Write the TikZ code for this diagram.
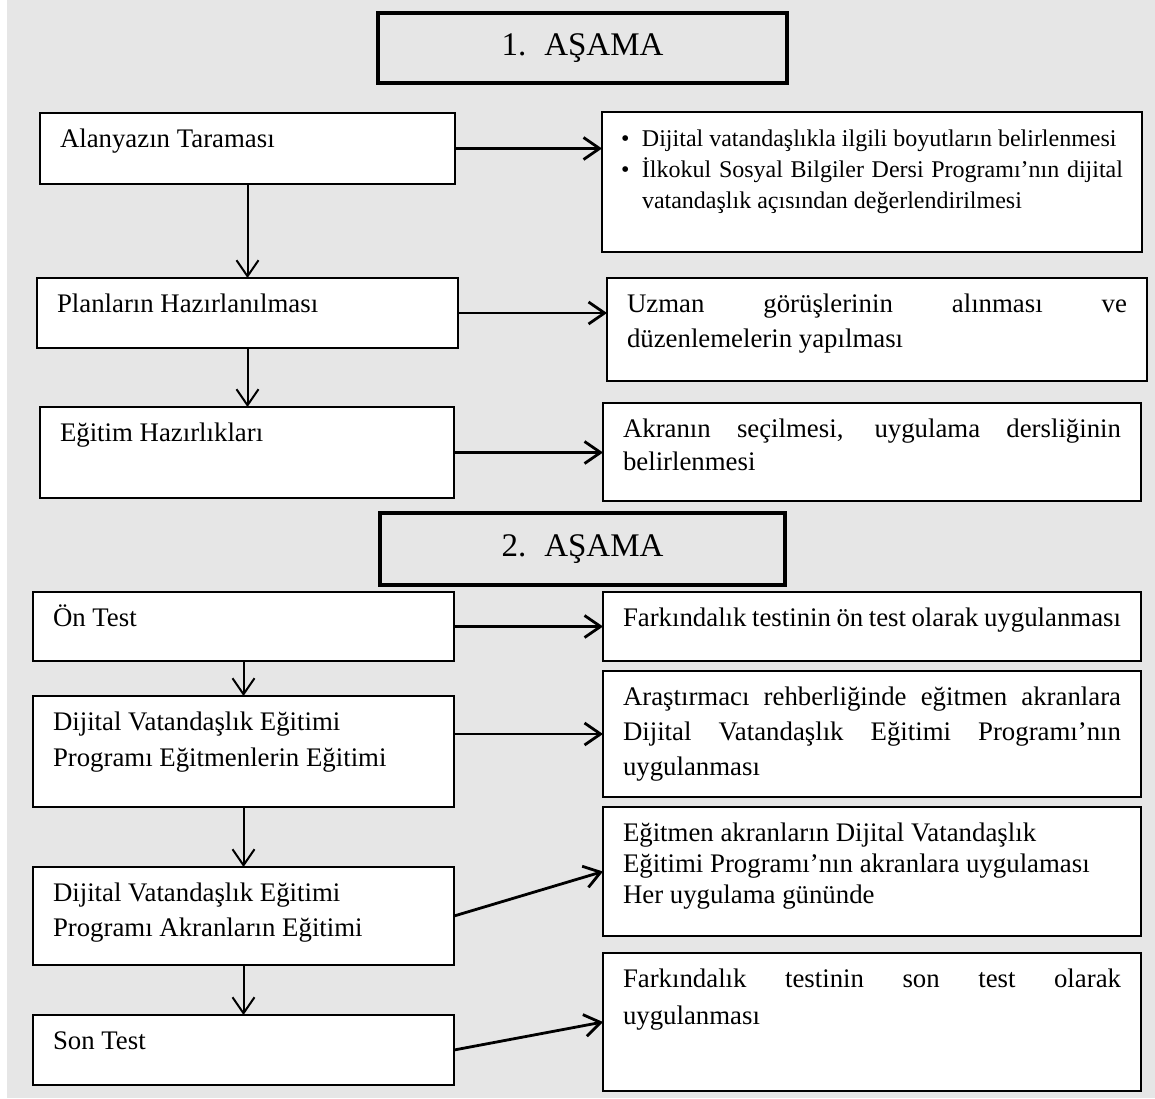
\documentclass[tikz,border=0pt]{standalone}
\usepackage{fontspec}
\setmainfont{Liberation Serif}
\usetikzlibrary{arrows.meta}

\definecolor{pagegray}{HTML}{E6E6E6}

\newcommand{\boxtext}[4]{\parbox[t][#1][t]{#2}{\hyphenpenalty=10000\exhyphenpenalty=10000\fontsize{13.4pt}{#3}\selectfont\rule{0pt}{17pt}#4}}

\tikzset{
  stagebox/.style={draw, line width=2.2pt, anchor=north west, outer sep=0, inner sep=0, minimum height=35pt, font=\fontsize{16.5pt}{20pt}\selectfont},
  flowbox/.style={draw, line width=0.8pt, fill=white, anchor=north west, outer sep=0, inner ysep=0pt, inner xsep=10pt},
  sidearrow/.style={line width=1.4pt, -{Straight Barb[length=8pt, width=11pt]}},
  downarrow/.style={line width=1pt, -{Straight Barb[length=8pt, width=11pt]}}
}

\begin{document}
\begin{tikzpicture}[x=0.5pt, y=-0.5pt]
        \useasboundingbox (0,0) rectangle (1155,1098);
        \fill[white] (0,0) rectangle (1155,1098);
        \fill[pagegray] (7,0) rectangle (1155,1098);

        \draw (378,13) node[stagebox, minimum width=204.5pt] (stage-1) {1.\hspace{9pt}AŞAMA};

        \draw (40,113) node[flowbox] (lit-rev) {\boxtext{35.5pt}{187.5pt}{17.5pt}{Alanyazın Taraması}};

        \draw (37,278) node[flowbox] (plan-prep) {\boxtext{35pt}{190.5pt}{17.5pt}{Planların Hazırlanılması}};

        \draw (40,407) node[flowbox] (edu-prep) {\boxtext{45.5pt}{187pt}{17.5pt}{Eğitim Hazırlıkları}};

        \draw (602,112) node[flowbox, inner xsep=9.5pt] (lit-out) {\boxtext{70pt}{251pt}{15.5pt}{\fontsize{12pt}{15.5pt}\selectfont\hangindent=10.5pt\hangafter=1\makebox[10.5pt][l]{\textbullet}Dijital vatandaşlıkla ilgili boyutların belirlenmesi\par\hangindent=10.5pt\hangafter=1\makebox[10.5pt][l]{\textbullet}İlkokul Sosyal Bilgiler Dersi Programı’nın dijital\linebreak vatandaşlık açısından değerlendirilmesi}};

        \draw (607,278) node[flowbox] (plan-out) {\boxtext{51.5pt}{250pt}{17.5pt}{Uzman görüşlerinin alınması ve\linebreak düzenlemelerin yapılması}};

        \draw (603,403) node[flowbox] (edu-out) {\boxtext{49pt}{249pt}{16.5pt}{Akranın seçilmesi, uygulama dersliğinin\linebreak belirlenmesi}};

        \draw (380,513) node[stagebox, minimum width=202.5pt, minimum height=36pt] (stage-2) {2.\hspace{9pt}AŞAMA};

        \draw (33,592) node[flowbox] (pre-test) {\boxtext{34.5pt}{190.5pt}{17.5pt}{Ön Test}};

        \draw (33,696) node[flowbox] (trainer-edu) {\boxtext{55.5pt}{190.5pt}{18pt}{Dijital Vatandaşlık Eğitimi\\Programı Eğitmenlerin Eğitimi}};

        \draw (33,867) node[flowbox] (peer-edu) {\boxtext{49pt}{190.5pt}{17.5pt}{Dijital Vatandaşlık Eğitimi\\Programı Akranların Eğitimi}};

        \draw (33,1015) node[flowbox] (post-test) {\boxtext{35pt}{190.5pt}{17.5pt}{Son Test}};

        \draw (603,592) node[flowbox] (pre-out) {\boxtext{34.5pt}{249pt}{17.5pt}{Farkındalık testinin ön test olarak uygulanması}};

        \draw (603,671) node[flowbox] (trainer-out) {\boxtext{63pt}{249pt}{17.5pt}{Araştırmacı rehberliğinde eğitmen akranlara\linebreak Dijital Vatandaşlık Eğitimi Programı’nın\linebreak uygulanması}};

        \draw (603,807) node[flowbox] (peer-out) {\boxtext{64.5pt}{249pt}{15.5pt}{Eğitmen akranların Dijital Vatandaşlık\\Eğitimi Programı’nın akranlara uygulaması\\Her uygulama gününde}};

        \draw (603,953) node[flowbox] (post-out) {\boxtext{69pt}{249pt}{18.5pt}{Farkındalık testinin son test olarak\linebreak uygulanması}};

        \draw[downarrow] (lit-rev.south) -- (lit-rev.south |- plan-prep.north);
        \draw[downarrow] (plan-prep.south) -- (plan-prep.south |- edu-prep.north);
        \draw[downarrow] (pre-test.south) -- (trainer-edu.north);
        \draw[downarrow] (trainer-edu.south) -- (peer-edu.north);
        \draw[downarrow] (peer-edu.south) -- (post-test.north);

        \draw[sidearrow] (lit-rev.east) -- (lit-rev.east -| lit-out.west);
        \draw[sidearrow] (plan-prep.east) -- (plan-prep.east -| plan-out.west);
        \draw[sidearrow] (edu-prep.east) -- (edu-prep.east -| edu-out.west);
        \draw[sidearrow] (pre-test.east) -- (pre-test.east -| pre-out.west);
        \draw[sidearrow] (trainer-out.west -| trainer-edu.east) -- (trainer-out.west);
        \draw[sidearrow] (peer-edu.east) -- (peer-out.west);
        \draw[sidearrow] (post-test.east) -- (post-out.west);
      \end{tikzpicture}
\end{document}
